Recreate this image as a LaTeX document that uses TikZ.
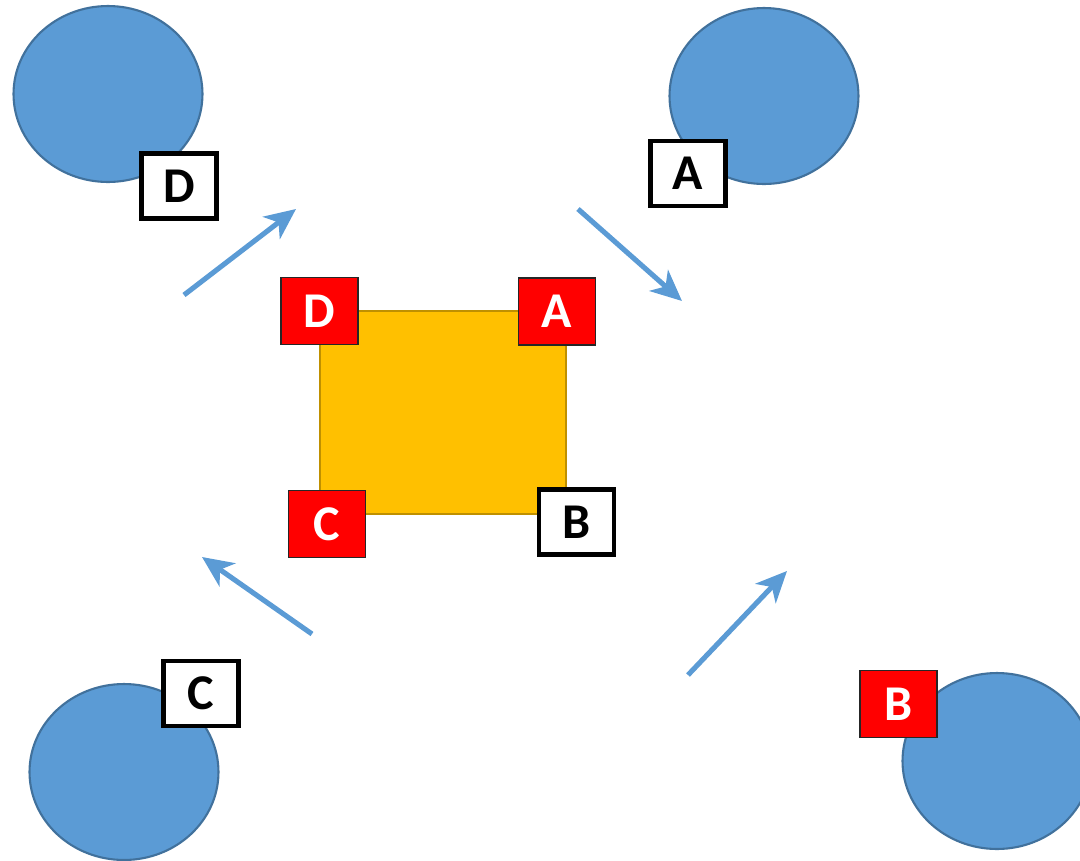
\documentclass[tikz,border=0pt]{standalone}
\usepackage{fontspec}
\setmainfont{Carlito}
\usepackage{tikz}
\usetikzlibrary{shapes.geometric, positioning, arrows.meta}

\definecolor{ballblue}{HTML}{5B9BD5}
\definecolor{balledge}{HTML}{41719C}
\definecolor{boxgold}{HTML}{FFC000}
\definecolor{goldedge}{HTML}{BF9000}

\begin{document}
\begin{tikzpicture}[x=0.02cm, y=-0.02cm, >={Stealth[length=6.2mm, width=5.6mm, inset=1.8mm]}, font=\bfseries\fontsize{28.5}{32}\selectfont]
    \tikzstyle{ball}=[ellipse, draw=balledge, line width=1.2pt, fill=ballblue, minimum width=3.78cm, minimum height=3.52cm, inner sep=0pt]
    \tikzstyle{whitetag}=[rectangle, draw=black, line width=2.4pt, fill=white, text=black, minimum width=1.5cm, minimum height=1.3cm, inner sep=0pt]
    \tikzstyle{redtag}=[rectangle, draw=black!85, line width=1.1pt, fill=red, text=white, minimum width=1.54cm, minimum height=1.34cm, inner sep=0pt]
    \tikzstyle{move}=[->, draw=ballblue, line width=2.9pt]

    \useasboundingbox (0,0) rectangle (1080,860);

    % the four balls
    \node[ball] (tl) at (108,94) {};
    \node[ball] (tr) at (764,96) {};
    \node[ball] (bl) at (124,772) {};
    \node[ball] (br) at (997,761) {};

    % the square
    \node[rectangle, draw=goldedge, line width=1.2pt, fill=boxgold, minimum width=4.92cm, minimum height=4.06cm, inner sep=0pt] (sq) at (443,412.5) {};

    % tags on the balls
    \node[whitetag] (tD) at (179,186) {D};
    \node[whitetag] (tA) at (688,173.5) {A};
    \node[whitetag] (tC) at (201,693.5) {C};
    \node[redtag] (tB) at (898.5,704) {B};

    % tags on the square
    \node[redtag] (sD) at (319.5,311) {D};
    \node[redtag] (sA) at (557,311.5) {A};
    \node[redtag] (sC) at (327,524) {C};
    \node[whitetag] (sB) at (576.5,522) {B};

    % arrows
    \coordinate (d0) at (184,295);
    \coordinate (d1) at (296,209);
    \coordinate (a0) at (578,209);
    \coordinate (a1) at (682,301);
    \coordinate (c0) at (312,634);
    \coordinate (c1) at (202,557);
    \coordinate (b0) at (688,675);
    \coordinate (b1) at (787,571);

    \draw[move] (d0) -- (d1);
    \draw[move] (a0) -- (a1);
    \draw[move] (c0) -- (c1);
    \draw[move] (b0) -- (b1);
\end{tikzpicture}
\end{document}
